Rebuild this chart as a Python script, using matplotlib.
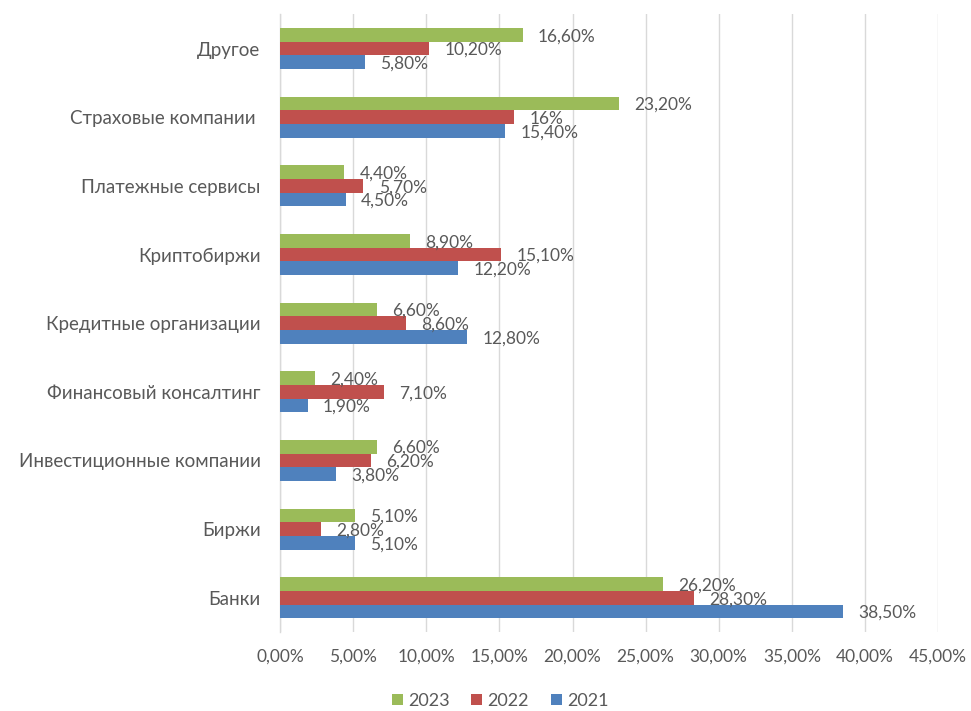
import matplotlib
matplotlib.use("Agg")
import matplotlib.pyplot as plt
import numpy as np

plt.rcParams["font.family"] = ["Lato", "Open Sans", "DejaVu Sans"]

TEXT = "#595959"
GRID = "#D9D9D9"
GREEN = "#9BBB59"
RED = "#C0504D"
BLUE = "#4F81BD"

# категории снизу вверх
categories = [
    "Банки",
    "Биржи",
    "Инвестиционные компании",
    "Финансовый консалтинг",
    "Кредитные организации",
    "Криптобиржи",
    "Платежные сервисы",
    "Страховые компании ",
    "Другое",
]

# доли в процентах, как подписаны на диаграмме
share_2023 = ["26,20", "5,10", "6,60", "2,40", "6,60", "8,90", "4,40", "23,20", "16,60"]
share_2022 = ["28,30", "2,80", "6,20", "7,10", "8,60", "15,10", "5,70", "16", "10,20"]
share_2021 = ["38,50", "5,10", "3,80", "1,90", "12,80", "12,20", "4,50", "15,40", "5,80"]

years = ["2023", "2022", "2021"]
series = [share_2023, share_2022, share_2021]
colors = [GREEN, RED, BLUE]
shifts = [0.2, 0.0, -0.2]

xticks = np.arange(0, 46, 5)


def to_num(s):
    return float(s.replace(",", "."))


fig = plt.figure(figsize=(9.71, 7.11), dpi=100, facecolor="white")
ax = fig.add_axes([0.2884, 0.111, 0.6777, 0.869])

y = np.arange(len(categories))
for year, vals, col, dy in zip(years, series, colors, shifts):
    nums = [to_num(v) for v in vals]
    ax.barh(y + dy, nums, height=0.2, color=col, label=year, zorder=3)
    for yi, v, s in zip(y, nums, vals):
        ax.annotate(f"{s}%", (v, yi + dy), xytext=(11, -1),
                    textcoords="offset points", va="center", ha="left",
                    fontsize=12.5, color=TEXT, zorder=4)

ax.set_xlim(0, 45)
ax.set_ylim(-0.5, len(categories) - 0.5)
ax.set_xticks(xticks)
ax.set_xticklabels([f"{t:.2f}%".replace(".", ",") for t in xticks])
ax.set_yticks(y)
ax.set_yticklabels(categories)

ax.tick_params(axis="both", length=0, colors=TEXT)
ax.tick_params(axis="x", pad=12, labelsize=12.5)
ax.tick_params(axis="y", pad=14, labelsize=13.5)

ax.grid(axis="x", color=GRID, lw=1, zorder=0)
for side in ("top", "right", "bottom"):
    ax.spines[side].set_visible(False)
ax.spines["left"].set_color(GRID)
ax.spines["left"].set_linewidth(1)

handles, labels = ax.get_legend_handles_labels()
fig.legend(handles, labels, loc="center", bbox_to_anchor=(0.515, 1 - 701 / 711),
           ncol=3, frameon=False, fontsize=13, labelcolor=TEXT,
           handlelength=0.6, handleheight=0.6, handletextpad=0.3,
           columnspacing=1.2)

fig.savefig("out.png", dpi=100)
